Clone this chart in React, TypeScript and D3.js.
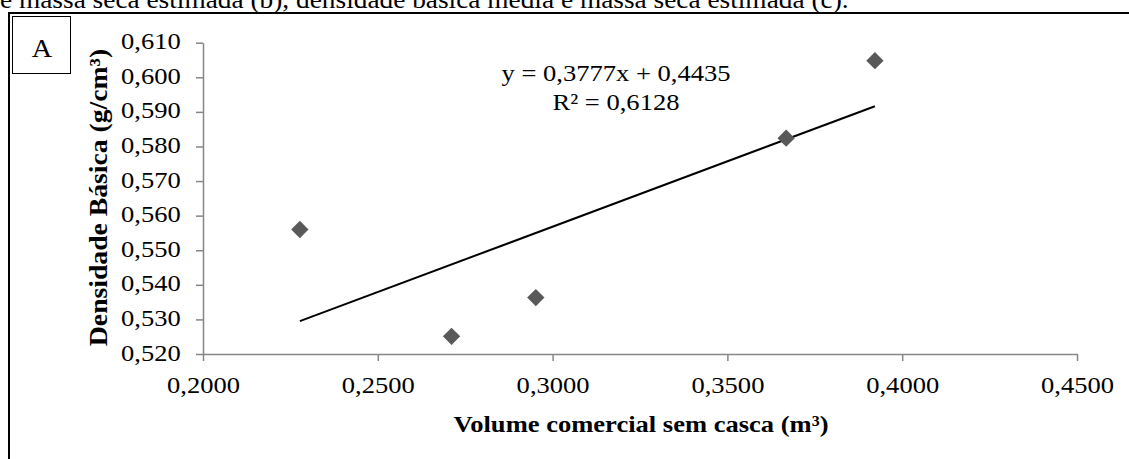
import React, { useEffect, useRef } from "react";
import * as d3 from "d3";

// volume comercial sem casca (m³) x densidade básica (g/cm³)
const volume = [0.2277, 0.2711, 0.2952, 0.3668, 0.3922];
const densidade = [0.556, 0.5251, 0.5363, 0.5824, 0.6048];
const xTicks = [0.2, 0.25, 0.3, 0.35, 0.4, 0.45];
const yTicks = [0.52, 0.53, 0.54, 0.55, 0.56, 0.57, 0.58, 0.59, 0.6, 0.61];
const slope = 0.3777;
const intercept = 0.4435;
const equationLabel = "y = 0,3777x + 0,4435";
const r2Label = "R² = 0,6128";
const caption = "e massa seca estimada (b), densidade básica média e massa seca estimada (c).";

const FONT = "'Liberation Serif', 'Times New Roman', serif";
const SX = 1.13; // the source picture is a bit wider than tall

const App = () => {
  const ref = useRef<SVGSVGElement>(null);

  useEffect(() => {
    const svg = d3.select(ref.current);
    svg.selectAll("*").remove();

    const width = 1129, height = 459;
    const margin = { top: 42.7, right: 52, bottom: 105, left: 203 };

    const x = d3.scaleLinear()
      .domain([0.2, 0.45])
      .range([margin.left, width - margin.right]);

    const y = d3.scaleLinear()
      .domain([0.52, 0.61])
      .range([height - margin.bottom, margin.top]);

    const fmt = (d: number, digits: number) => d.toFixed(digits).replace(".", ",");

    const label = (tx: number, ty: number, str: string, size: number, anchor = "middle", bold = false, rotate = 0) =>
      svg.append("g")
        .attr("transform", `translate(${tx},${ty}) rotate(${rotate}) scale(${SX},1)`)
        .append("text")
        .attr("text-anchor", anchor)
        .attr("font-family", FONT)
        .attr("font-size", size)
        .attr("font-weight", bold ? "bold" : "normal")
        .attr("fill", "#000")
        .text(str);

    // caption cut at the top of the page
    label(0, 7.5, caption, 24.2, "start");

    // frame
    svg.append("line")
      .attr("x1", 8).attr("x2", width)
      .attr("y1", 13).attr("y2", 13)
      .attr("stroke", "#000").attr("stroke-width", 2);
    svg.append("line")
      .attr("x1", 9).attr("x2", 9)
      .attr("y1", 12).attr("y2", height)
      .attr("stroke", "#000").attr("stroke-width", 2);

    // panel label
    svg.append("rect")
      .attr("x", 12.5).attr("y", 16.5)
      .attr("width", 58).attr("height", 57)
      .attr("fill", "#fff").attr("stroke", "#000").attr("stroke-width", 1);
    label(42, 57, "A", 25);

    const xAxis = svg.append("g")
      .attr("transform", `translate(0,${height - margin.bottom})`)
      .call(d3.axisBottom(x).tickValues(xTicks).tickSize(7).tickSizeOuter(0).tickFormat(d => fmt(+d, 4)));

    const yAxis = svg.append("g")
      .attr("transform", `translate(${margin.left},0)`)
      .call(d3.axisLeft(y).tickValues(yTicks).tickSize(7).tickSizeOuter(0).tickFormat(d => fmt(+d, 3)));

    [xAxis, yAxis].forEach(g => {
      g.select(".domain").attr("stroke", "#868686").attr("stroke-width", 1.5);
      g.selectAll(".tick line").attr("stroke", "#868686").attr("stroke-width", 1.5);
      g.selectAll(".tick text")
        .attr("font-family", FONT)
        .attr("font-size", 23.5)
        .attr("fill", "#000")
        .attr("transform", `scale(${SX},1)`);
    });
    xAxis.selectAll(".tick text").attr("y", 39).attr("dy", 0);
    yAxis.selectAll(".tick text").attr("x", -22.3 / SX).attr("dy", "0.26em");

    // trend line
    const xr = d3.extent(volume) as [number, number];
    svg.append("path")
      .datum(xr)
      .attr("fill", "none")
      .attr("stroke", "#000")
      .attr("stroke-width", 2)
      .attr("d", d3.line<number>().x(d => x(d)).y(d => y(slope * d + intercept)));

    // points
    svg.selectAll("path.pt")
      .data(volume)
      .join("path")
      .attr("class", "pt")
      .attr("transform", (d, i) => `translate(${x(d)},${y(densidade[i])}) rotate(45)`)
      .attr("d", d3.symbol().type(d3.symbolSquare).size(150))
      .attr("fill", "#595959");

    // equation
    label(616, 81, equationLabel, 23.5);
    label(616, 110, r2Label, 23.5);

    // axis titles
    label(641, 432, "Volume comercial sem casca (m³)", 23.5, "middle", true);
    label(107, 197.5, "Densidade Básica (g/cm³)", 24.5, "middle", true, -90);
  }, []);

  return (
    <svg
      ref={ref}
      width={1129}
      height={459}
      style={{ position: "absolute", left: 0, top: 0, background: "#fff" }}
    />
  );
};

export default App;
